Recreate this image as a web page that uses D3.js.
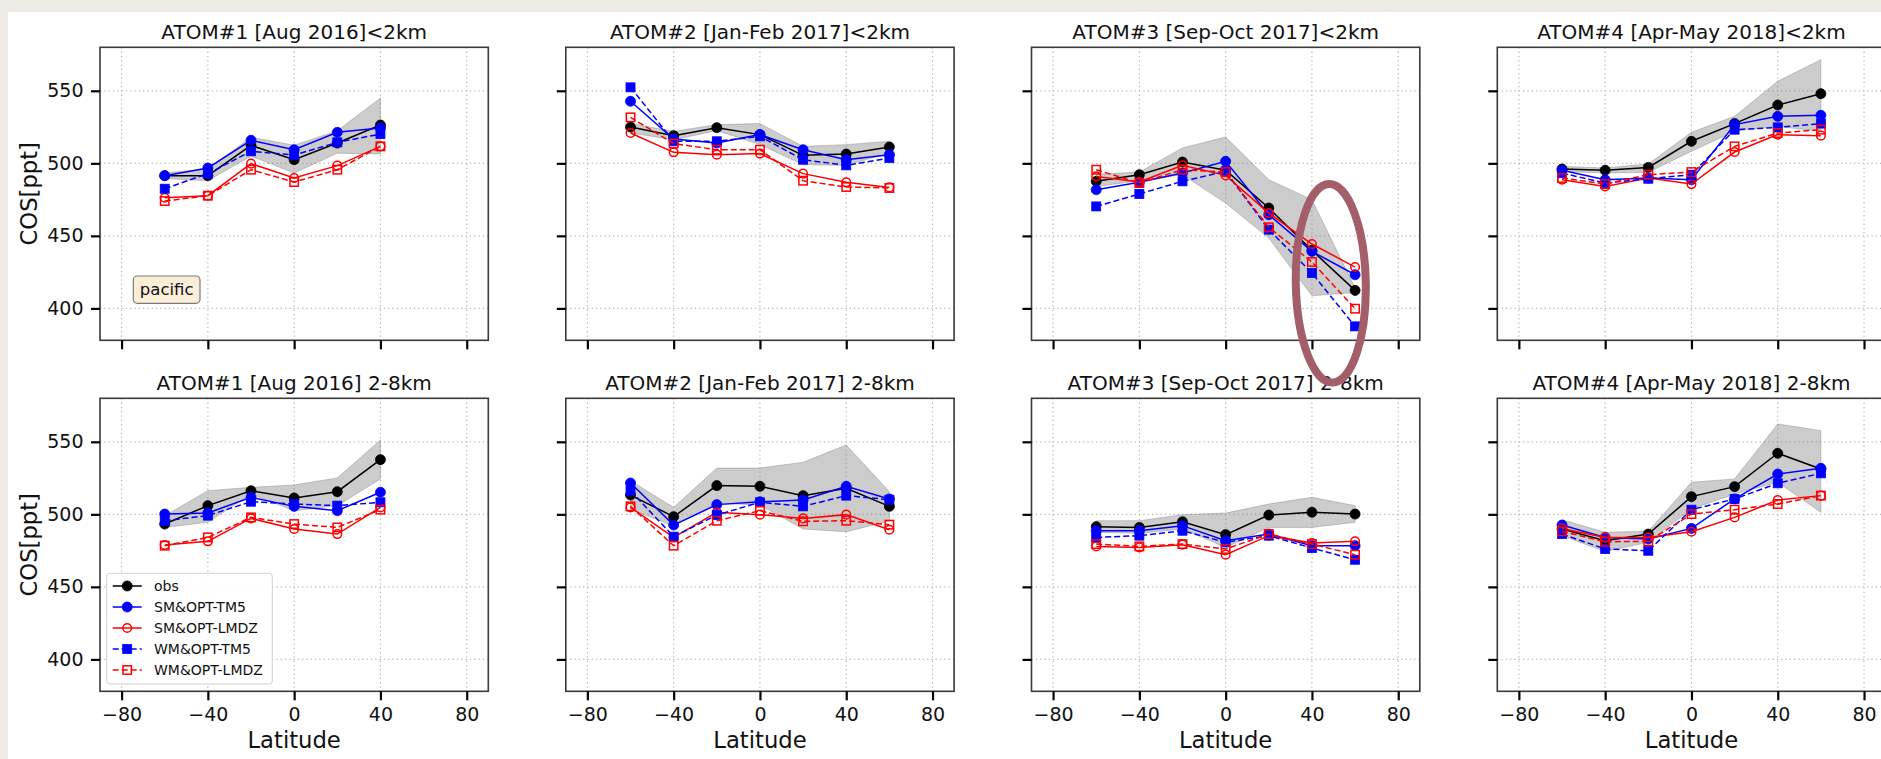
<!DOCTYPE html>
<html>
<head>
<meta charset="utf-8">
<script src="https://cdn.jsdelivr.net/npm/d3@7"></script>
<style>
  html, body { margin: 0; padding: 0; background: #eeebe4; }
  svg { display: block; font-family: "DejaVu Sans", "Liberation Sans", sans-serif; }
</style>
</head>
<body>
<svg id="fig" width="1881" height="759"></svg>
<script>
// Latitude bins (degrees) shared by all panels
const lat = [-60, -40, -20, 0, 20, 40, 60];

const titles = [
  "ATOM#1 [Aug 2016]<2km", "ATOM#2 [Jan-Feb 2017]<2km",
  "ATOM#3 [Sep-Oct 2017]<2km", "ATOM#4 [Apr-May 2018]<2km",
  "ATOM#1 [Aug 2016] 2-8km", "ATOM#2 [Jan-Feb 2017] 2-8km",
  "ATOM#3 [Sep-Oct 2017] 2-8km", "ATOM#4 [Apr-May 2018] 2-8km"
];

const xTicks = [-80, -40, 0, 40, 80];
const yTicks = [400, 450, 500, 550];

// COS mixing ratio [ppt] per panel, one entry per latitude bin
const obs = [
  [491.5, 491.5, 512.4, 502.5, 514.0, 526.4],
  [525.0, 519.1, 524.6, 519.8, 505.5, 506.4, 511.3],
  [487.6, 492.2, 500.9, 495.2, 469.2, 440.0, 412.4],
  [496.1, 495.2, 497.2, 515.2, 527.4, 540.2, 548.0],
  [493.3, 506.0, 516.3, 511.3, 515.6, 537.7],
  [513.3, 498.4, 519.8, 519.3, 512.9, 517.9, 505.5],
  [491.5, 491.0, 494.9, 486.0, 499.5, 501.4, 500.2],
  [489.9, 481.8, 486.4, 512.2, 519.1, 542.1, 531.3]
];
// Upper and lower edge of the observed spread
const obsHi = [
  [493.5, 496.0, 518.0, 512.5, 522.5, 545.0],
  [527.5, 522.0, 526.7, 527.4, 511.7, 512.9, 515.2],
  [492.5, 494.0, 510.6, 518.2, 488.7, 474.9, 414.0],
  [497.9, 496.8, 499.5, 521.4, 532.4, 556.6, 571.5],
  [499.0, 516.3, 518.6, 520.2, 525.1, 551.3],
  [523.2, 504.8, 531.9, 531.9, 535.9, 547.8, 515.6],
  [495.6, 495.6, 499.8, 500.9, 507.1, 511.7, 506.0],
  [496.3, 487.6, 488.3, 522.1, 524.4, 562.3, 557.7]
];
const obsLo = [
  [489.5, 488.0, 505.0, 493.3, 507.0, 506.5],
  [521.0, 516.3, 522.5, 513.0, 499.0, 498.6, 507.1],
  [484.0, 488.0, 492.2, 472.6, 448.5, 408.7, 411.0],
  [494.5, 493.3, 493.8, 508.3, 522.1, 525.5, 522.1],
  [491.0, 494.5, 514.0, 502.5, 506.0, 524.4],
  [503.5, 492.0, 507.6, 506.5, 489.9, 488.0, 495.4],
  [487.5, 487.0, 489.9, 477.2, 491.0, 491.0, 494.5],
  [485.3, 474.3, 480.7, 503.7, 514.0, 522.1, 501.4]
];
const smTM5 = [
  [491.5, 496.8, 515.9, 509.4, 521.4, 524.4],
  [542.8, 516.8, 514.0, 519.8, 509.4, 502.5, 506.0],
  [481.8, 486.9, 493.3, 501.4, 464.6, 439.3, 423.2],
  [495.2, 488.7, 489.9, 488.7, 526.7, 532.4, 533.1],
  [500.2, 500.9, 511.7, 505.5, 502.5, 515.2],
  [521.6, 492.6, 506.7, 508.7, 509.9, 519.3, 510.6],
  [488.7, 488.7, 492.2, 481.8, 486.4, 478.4, 478.4],
  [492.6, 484.1, 483.0, 490.3, 510.6, 527.8, 531.7]
];
const smLMDZ = [
  [476.3, 477.7, 499.8, 489.9, 498.4, 511.7],
  [520.9, 507.6, 506.0, 506.7, 492.9, 486.9, 483.4],
  [491.0, 487.1, 498.6, 491.7, 465.7, 444.4, 428.5],
  [488.7, 484.1, 489.9, 485.7, 507.8, 519.8, 519.1],
  [478.9, 481.4, 497.2, 489.9, 486.4, 504.8],
  [504.8, 484.1, 501.4, 499.8, 497.2, 499.8, 489.4],
  [477.9, 477.2, 479.1, 472.2, 485.3, 480.2, 481.4],
  [490.3, 484.1, 484.1, 488.0, 497.9, 509.9, 512.9]
];
const wmTM5 = [
  [482.5, 492.9, 508.3, 505.7, 514.5, 520.2],
  [552.4, 515.2, 515.2, 518.6, 502.5, 498.6, 503.7],
  [470.3, 478.9, 487.6, 494.5, 454.3, 424.4, 387.6],
  [493.3, 486.4, 489.4, 492.2, 523.2, 524.8, 527.4],
  [495.6, 499.1, 508.7, 507.1, 506.0, 508.3],
  [516.3, 484.6, 499.5, 508.3, 505.5, 512.9, 510.1],
  [484.1, 485.3, 488.7, 480.7, 485.3, 476.8, 468.7],
  [486.4, 476.1, 474.9, 503.2, 510.6, 521.4, 528.3]
];
const wmLMDZ = [
  [474.0, 477.7, 495.6, 487.1, 495.6, 511.7],
  [531.7, 513.6, 509.4, 509.4, 488.0, 483.7, 483.0],
  [495.6, 486.4, 495.6, 494.0, 455.9, 432.0, 399.8],
  [489.9, 485.7, 492.2, 494.0, 511.7, 520.9, 523.2],
  [478.4, 484.1, 497.9, 493.3, 491.0, 503.2],
  [505.5, 478.4, 495.6, 502.5, 495.2, 495.6, 492.9],
  [479.5, 477.9, 479.5, 476.1, 486.4, 479.5, 472.2],
  [488.3, 481.1, 481.4, 500.2, 503.2, 507.1, 512.9]
];

// Series drawing styles, in plotting / legend order
const series = [
  { name: "obs",         values: obs,    color: "#000000", dash: null,  marker: "circle", filled: true },
  { name: "SM&OPT-TM5",  values: smTM5,  color: "#0000ff", dash: null,  marker: "circle", filled: true },
  { name: "SM&OPT-LMDZ", values: smLMDZ, color: "#ff0000", dash: null,  marker: "circle", filled: false },
  { name: "WM&OPT-TM5",  values: wmTM5,  color: "#0000ff", dash: "6,3", marker: "square", filled: true },
  { name: "WM&OPT-LMDZ", values: wmLMDZ, color: "#ff0000", dash: "6,3", marker: "square", filled: false }
];

// ---- figure layout ----
const W = 1881, H = 759;
const panelW = 388.3, panelH = 293;
const panelLefts = [100, 565.8, 1031.5, 1497.3];
const rowTops = [47.3, 398.3];

const svg = d3.select("#fig");
svg.append("rect").attr("x", 8).attr("y", 12).attr("width", W - 8).attr("height", H - 12).attr("fill", "#ffffff");

const x = d3.scaleLinear().domain([-90, 90]).range([0, panelW]);
const y = d3.scaleLinear().domain([378, 580]).range([panelH, 0]);

function drawMarker(sel, s, cx, cy) {
  if (s.marker === "circle") {
    sel.append("circle")
      .attr("cx", cx).attr("cy", cy)
      .attr("r", s.filled ? 5 : 4.3)
      .attr("fill", s.filled ? s.color : "none")
      .attr("stroke", s.color)
      .attr("stroke-width", s.filled ? 0.8 : 1.5);
  } else {
    const a = s.filled ? 9 : 8.4;
    sel.append("rect")
      .attr("x", cx - a / 2).attr("y", cy - a / 2)
      .attr("width", a).attr("height", a)
      .attr("fill", s.filled ? s.color : "none")
      .attr("stroke", s.color)
      .attr("stroke-width", s.filled ? 0.8 : 1.5);
  }
}

titles.forEach((title, i) => {
  const row = Math.floor(i / 4), col = i % 4;
  const g = svg.append("g").attr("transform", `translate(${panelLefts[col]},${rowTops[row]})`);

  const clipId = "clip" + i;
  g.append("clipPath").attr("id", clipId)
    .append("rect").attr("width", panelW).attr("height", panelH);

  // dotted grid
  const grid = g.append("g").attr("stroke", "#b8b8b8").attr("stroke-width", 1.2).attr("stroke-dasharray", "1.3,3");
  xTicks.forEach(t => grid.append("line").attr("x1", x(t)).attr("x2", x(t)).attr("y1", 0).attr("y2", panelH));
  yTicks.forEach(t => grid.append("line").attr("x1", 0).attr("x2", panelW).attr("y1", y(t)).attr("y2", y(t)));

  const plot = g.append("g").attr("clip-path", `url(#${clipId})`);

  // spread of the observations
  const n = obs[i].length;
  const band = d3.range(n).map(k => ({ lat: lat[k], lo: obsLo[i][k], hi: obsHi[i][k] }));
  plot.append("path")
    .attr("d", d3.area().x(d => x(d.lat)).y0(d => y(d.lo)).y1(d => y(d.hi))(band))
    .attr("fill", "#808080").attr("fill-opacity", 0.4)
    .attr("stroke", "#808080").attr("stroke-opacity", 0.4).attr("stroke-width", 1);

  // observed and modelled series
  const line = d3.line().x(d => x(d[0])).y(d => y(d[1]));
  series.forEach(s => {
    const pts = s.values[i].map((v, k) => [lat[k], v]);
    const sg = plot.append("g");
    sg.append("path").attr("d", line(pts))
      .attr("fill", "none").attr("stroke", s.color).attr("stroke-width", 1.5)
      .attr("stroke-dasharray", s.dash);
    pts.forEach(p => drawMarker(sg, s, x(p[0]), y(p[1])));
  });

  // frame
  g.append("rect").attr("width", panelW).attr("height", panelH)
    .attr("fill", "none").attr("stroke", "#3a3a3a").attr("stroke-width", 1.6);

  // axes
  const yAxis = d3.axisLeft(y).tickValues(yTicks).tickSize(9).tickPadding(7.5);
  if (col !== 0) yAxis.tickFormat("");
  const ya = g.append("g").call(yAxis);
  const xAxis = d3.axisBottom(x).tickValues(xTicks).tickSize(9).tickPadding(7);
  if (row === 0) xAxis.tickFormat("");
  const xa = g.append("g").attr("transform", `translate(0,${panelH})`).call(xAxis);
  [ya, xa].forEach(a => {
    a.select(".domain").remove();
    a.selectAll(".tick line").attr("stroke", "#000").attr("stroke-width", 2.2);
    a.selectAll(".tick text").attr("fill", "#111").style("font-size", "19px")
      .style("font-family", '"DejaVu Sans", sans-serif');
  });

  // title
  g.append("text").attr("x", panelW / 2).attr("y", -8.8)
    .attr("text-anchor", "middle").attr("fill", "#111")
    .style("font-size", "20px").text(title);

  if (col === 0) {
    g.append("text")
      .attr("transform", `translate(-63.4,${panelH / 2}) rotate(-90)`)
      .attr("text-anchor", "middle").attr("fill", "#111")
      .style("font-size", "22.7px").text("COS[ppt]");
  }
  if (row === 1) {
    g.append("text").attr("x", panelW / 2).attr("y", 350)
      .attr("text-anchor", "middle").attr("fill", "#111")
      .style("font-size", "22.7px").text("Latitude");
  }

  // region tag
  if (i === 0) {
    g.append("rect").attr("x", 33.3).attr("y", 228.7).attr("width", 66.7).attr("height", 27.3)
      .attr("rx", 4).attr("fill", "#f5deb3").attr("fill-opacity", 0.5)
      .attr("stroke", "#7a7a7a").attr("stroke-width", 1.2);
    g.append("text").attr("x", 66.7).attr("y", 248).attr("text-anchor", "middle")
      .attr("fill", "#111").style("font-size", "16.5px").text("pacific");
  }

  // legend
  if (i === 4) {
    const lg = g.append("g").attr("transform", "translate(6.7,175)");
    lg.append("rect").attr("width", 165.6).attr("height", 110.7).attr("rx", 3)
      .attr("fill", "#ffffff").attr("fill-opacity", 0.85)
      .attr("stroke", "#d0d0d0").attr("stroke-width", 1);
    series.forEach((s, k) => {
      const cy = 12.7 + k * 21;
      lg.append("line").attr("x1", 6).attr("x2", 35).attr("y1", cy).attr("y2", cy)
        .attr("stroke", s.color).attr("stroke-width", 1.5).attr("stroke-dasharray", s.dash);
      drawMarker(lg, s, 20.5, cy);
      lg.append("text").attr("x", 47.3).attr("y", cy + 5).attr("fill", "#111")
        .style("font-size", "14px").text(s.name);
    });
  }
});

// highlight around the northern bins of the ATOM#3 low-altitude panel
svg.append("ellipse")
  .attr("cx", 1330.8).attr("cy", 283.3).attr("rx", 35).attr("ry", 99.3)
  .attr("transform", "rotate(-1,1330.8,283.3)")
  .attr("fill", "none").attr("stroke", "#a45e6a").attr("stroke-width", 8);
</script>
</body>
</html>
